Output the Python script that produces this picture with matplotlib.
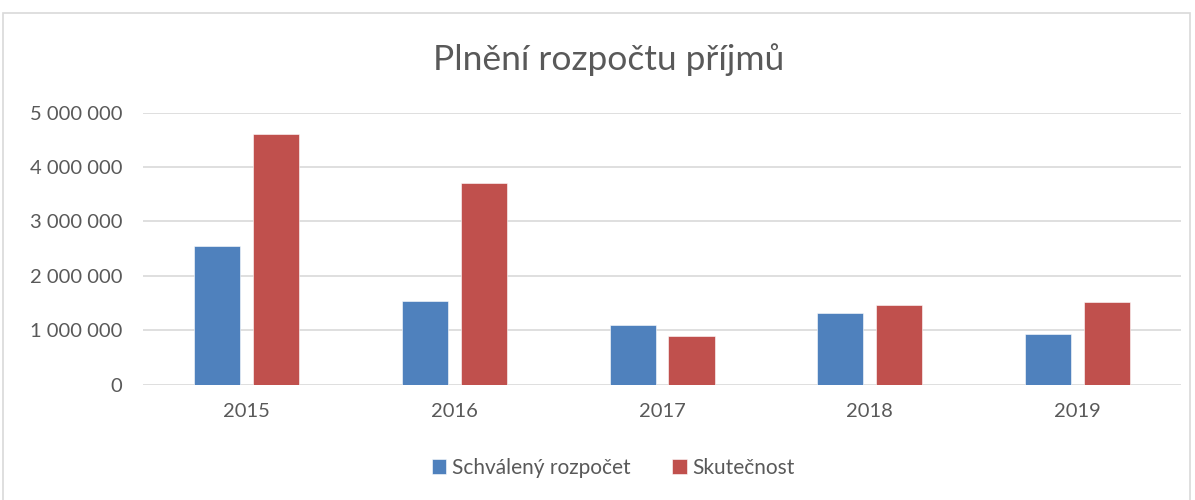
import numpy as np
import matplotlib.pyplot as plt
from matplotlib.patches import Rectangle
from matplotlib.ticker import FuncFormatter

years = ["2015", "2016", "2017", "2018", "2019"]
schvaleny = [2550000, 1530000, 1090000, 1310000, 930000]
skutecnost = [4610000, 3710000, 900000, 1470000, 1520000]

BLUE = "#4F81BD"
RED = "#C0504D"
TEXT = "#595959"
GRID = "#D9D9D9"

plt.rcParams["font.family"] = ["Lato", "DejaVu Sans"]

fig = plt.figure(figsize=(11.95, 5), dpi=100)
ax = fig.add_axes([0.1197, 0.231, 0.8686, 0.5436])

x = np.arange(len(years))
w = 0.222
ax.bar(x - 0.142, schvaleny, w, color=BLUE, edgecolor="white", linewidth=0.4,
       label="Schválený rozpočet", zorder=3)
ax.bar(x + 0.142, skutecnost, w, color=RED, edgecolor="white", linewidth=0.4,
       label="Skutečnost", zorder=3)

ax.set_xlim(-0.5, len(years) - 0.5)
ax.set_ylim(0, 5000000)
ax.set_yticks(np.arange(0, 5000001, 1000000))
ax.yaxis.set_major_formatter(FuncFormatter(lambda v, p: f"{int(v):,}".replace(",", " ")))
ax.set_xticks(x)
ax.set_xticklabels(years)
ax.tick_params(length=0, labelsize=14.5, colors=TEXT)
ax.tick_params(axis="y", pad=15)
ax.tick_params(axis="x", pad=13)
ax.grid(axis="y", color=GRID, linewidth=1.2, zorder=0)
for s in ax.spines.values():
    s.set_visible(False)

fig.text(0.509, 0.88, "Plnění rozpočtu příjmů", ha="center", va="center",
         fontsize=25.5, color=TEXT)

fig.legend(loc="center", bbox_to_anchor=(0.513, 0.064), ncol=2, frameon=False,
           fontsize=15, labelcolor=TEXT, handlelength=0.7, handleheight=0.7,
           handletextpad=0.25, columnspacing=2.0)

fig.patches.append(Rectangle((3 / 1195, -0.01), 1187 / 1195, 0.984,
                             transform=fig.transFigure, fill=False,
                             edgecolor=GRID, linewidth=1.2))

fig.savefig("out.png", dpi=100)
